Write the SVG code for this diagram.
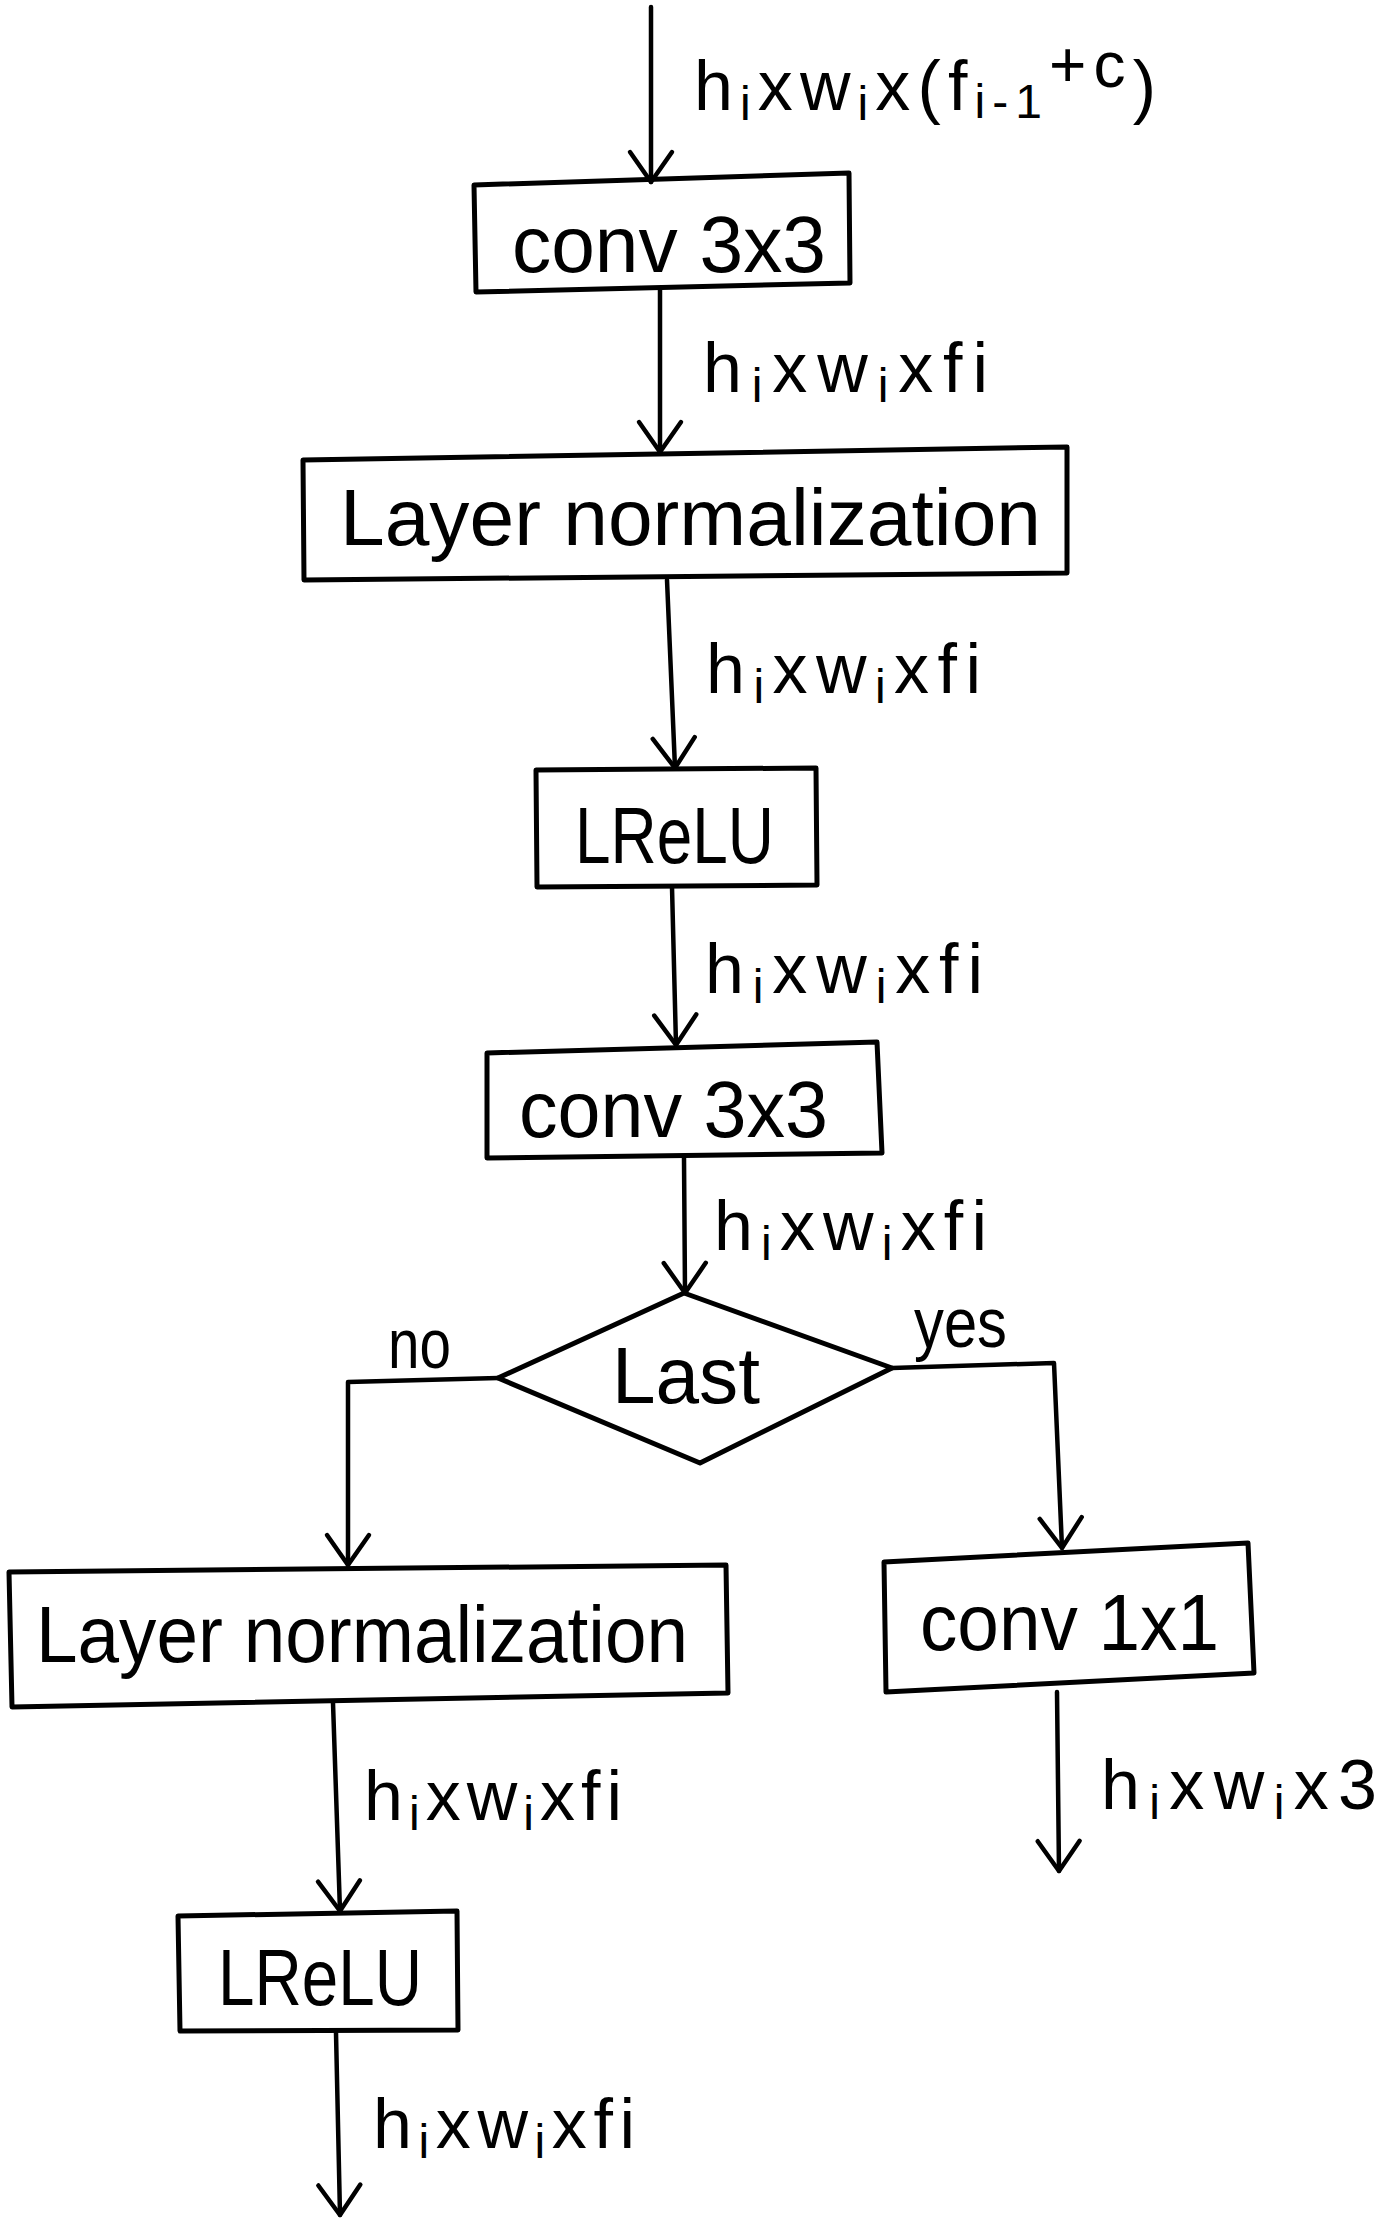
<svg xmlns="http://www.w3.org/2000/svg" width="1392" height="2228" viewBox="0 0 1392 2228">
<style>
.box{fill:none;stroke:#000;stroke-width:5;stroke-linejoin:round}
.ln{fill:none;stroke:#000;stroke-width:4.5;stroke-linecap:round;stroke-linejoin:round}
.t{font-family:"Liberation Sans",Arial,sans-serif;font-size:80px;fill:#000}
.lbl{font-family:"Liberation Sans",Arial,sans-serif;font-size:70px;fill:#000}
.s{font-size:48px}
</style>
<defs>
<marker id="ah" viewBox="-34 -26 40 52" markerWidth="40" markerHeight="52" refX="0" refY="0" orient="auto" markerUnits="userSpaceOnUse">
<path d="M-30,-21 L0,0 L-30,21" fill="none" stroke="#000" stroke-width="4.5" stroke-linecap="round" stroke-linejoin="round"/>
</marker>
</defs>
<rect width="1392" height="2228" fill="#fff"/>

<g id="connectors">
<path class="ln" d="M651,7 L651,182" marker-end="url(#ah)"/>
<path class="ln" d="M660,290 L660,452" marker-end="url(#ah)"/>
<path class="ln" d="M667,580 L675,768" marker-end="url(#ah)"/>
<path class="ln" d="M672,887 L676,1045" marker-end="url(#ah)"/>
<path class="ln" d="M684,1158 L685,1293" marker-end="url(#ah)"/>
<path class="ln" d="M498,1378 L348,1382 L348,1565" marker-end="url(#ah)"/>
<path class="ln" d="M892,1368 L1054,1363 L1062,1548" marker-end="url(#ah)"/>
<path class="ln" d="M333,1703 L340,1911" marker-end="url(#ah)"/>
<path class="ln" d="M1057,1692 L1059,1871" marker-end="url(#ah)"/>
<path class="ln" d="M336,2033 L340,2215" marker-end="url(#ah)"/>
</g>

<g id="labels">
<text class="lbl" x="694" y="110" textLength="462" lengthAdjust="spacing">h<tspan class="s" dy="10">i</tspan><tspan dy="-10">xw</tspan><tspan class="s" dy="10">i</tspan><tspan dy="-10">x(f</tspan><tspan class="s" dy="8">i-1</tspan><tspan font-size="64" dy="-31">+c</tspan><tspan dy="23">)</tspan></text>
<text class="lbl" x="703" y="392" textLength="285" lengthAdjust="spacing">h<tspan class="s" dy="10">i</tspan><tspan dy="-10">xw</tspan><tspan class="s" dy="10">i</tspan><tspan dy="-10">xfi</tspan></text>
<text class="lbl" x="706" y="693" textLength="275" lengthAdjust="spacing">h<tspan class="s" dy="10">i</tspan><tspan dy="-10">xw</tspan><tspan class="s" dy="10">i</tspan><tspan dy="-10">xfi</tspan></text>
<text class="lbl" x="705" y="993" textLength="278" lengthAdjust="spacing">h<tspan class="s" dy="10">i</tspan><tspan dy="-10">xw</tspan><tspan class="s" dy="10">i</tspan><tspan dy="-10">xfi</tspan></text>
<text class="lbl" x="714" y="1250" textLength="273" lengthAdjust="spacing">h<tspan class="s" dy="10">i</tspan><tspan dy="-10">xw</tspan><tspan class="s" dy="10">i</tspan><tspan dy="-10">xfi</tspan></text>
<text class="lbl" x="388" y="1368" font-size="56" textLength="63" lengthAdjust="spacingAndGlyphs">no</text>
<text class="lbl" x="914" y="1347" font-size="66" textLength="93" lengthAdjust="spacingAndGlyphs">yes</text>
<text class="lbl" x="364" y="1820" textLength="258" lengthAdjust="spacing">h<tspan class="s" dy="10">i</tspan><tspan dy="-10">xw</tspan><tspan class="s" dy="10">i</tspan><tspan dy="-10">xfi</tspan></text>
<text class="lbl" x="1101" y="1809" textLength="276" lengthAdjust="spacing">h<tspan class="s" dy="10">i</tspan><tspan dy="-10">xw</tspan><tspan class="s" dy="10">i</tspan><tspan dy="-10">x3</tspan></text>
<text class="lbl" x="373" y="2148" textLength="262" lengthAdjust="spacing">h<tspan class="s" dy="10">i</tspan><tspan dy="-10">xw</tspan><tspan class="s" dy="10">i</tspan><tspan dy="-10">xfi</tspan></text>
</g>

<g id="conv1">
<polygon class="box" points="474,185 849,173 850,283 476,292"/>
<text class="t" x="512" y="272" textLength="314" lengthAdjust="spacingAndGlyphs">conv 3x3</text>
</g>
<g id="layernorm1">
<polygon class="box" points="303,460 1067,447 1067,573 304,580"/>
<text class="t" x="340" y="545" textLength="701" lengthAdjust="spacingAndGlyphs">Layer normalization</text>
</g>
<g id="lrelu1">
<polygon class="box" points="536,770 816,768 817,885 537,887"/>
<text class="t" x="575" y="863" textLength="199" lengthAdjust="spacingAndGlyphs">LReLU</text>
</g>
<g id="conv2">
<polygon class="box" points="487,1053 877,1042 882,1153 487,1158"/>
<text class="t" x="519" y="1137" textLength="309" lengthAdjust="spacingAndGlyphs">conv 3x3</text>
</g>
<g id="last">
<polygon class="box" points="684,1293 892,1368 700,1463 498,1378"/>
<text class="t" x="612" y="1403" font-size="76" textLength="148" lengthAdjust="spacingAndGlyphs">Last</text>
</g>
<g id="layernorm2">
<polygon class="box" points="9,1572 726,1565 728,1693 12,1707"/>
<text class="t" x="36" y="1662" textLength="652" lengthAdjust="spacingAndGlyphs">Layer normalization</text>
</g>
<g id="conv3">
<polygon class="box" points="884,1562 1248,1543 1254,1673 886,1692"/>
<text class="t" x="920" y="1650" font-size="74" textLength="299" lengthAdjust="spacingAndGlyphs">conv 1x1</text>
</g>
<g id="lrelu2">
<polygon class="box" points="178,1916 457,1911 458,2030 180,2031"/>
<text class="t" x="218" y="2005" font-size="84" textLength="204" lengthAdjust="spacingAndGlyphs">LReLU</text>
</g>
</svg>
